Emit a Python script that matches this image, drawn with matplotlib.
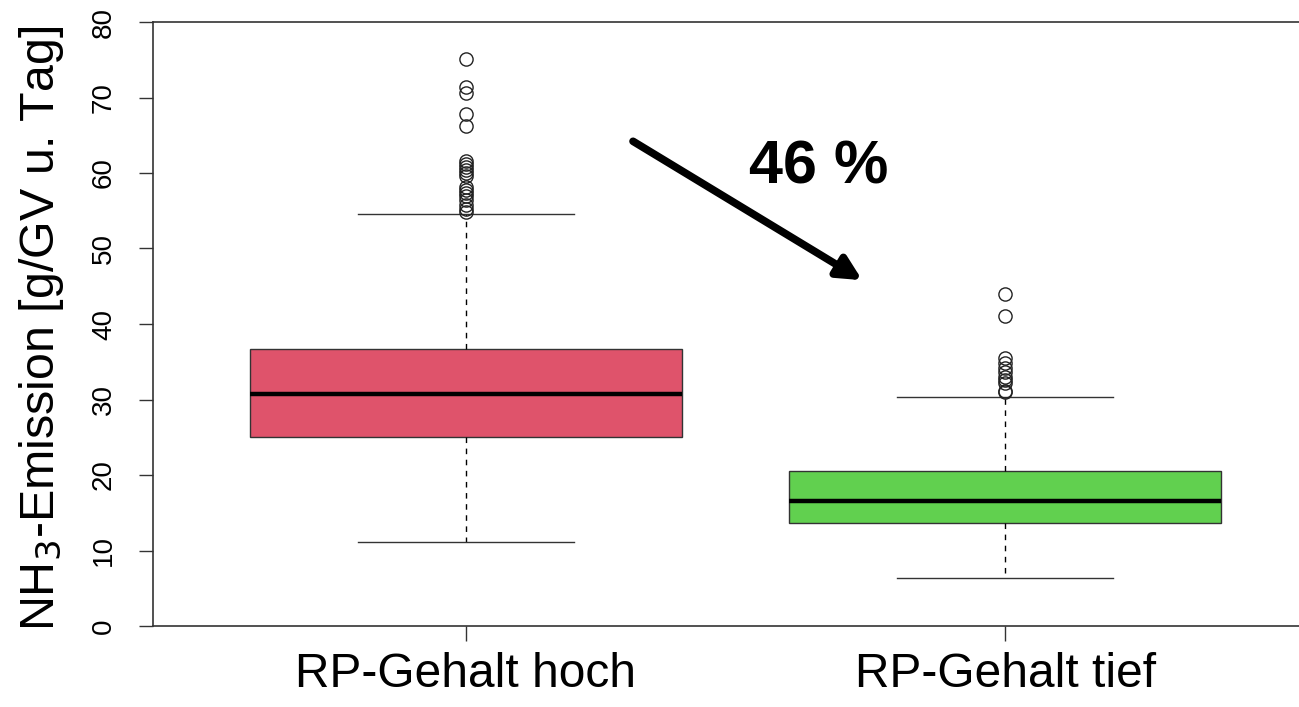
import numpy as np
import matplotlib
matplotlib.use('Agg')
import matplotlib.pyplot as plt

plt.rcParams['font.family'] = ['Liberation Sans', 'DejaVu Sans']

groups = ["RP-Gehalt hoch", "RP-Gehalt tief"]
colors = ["#DF536B", "#61D04F"]

# box statistics per group
q1 = [25.0, 13.6]
med = [30.7, 16.6]
q3 = [36.7, 20.5]
whislo = [11.1, 6.4]
whishi = [54.6, 30.3]

fliers_hoch = [75.1, 71.4, 70.6, 67.8, 66.2, 61.6, 61.2, 60.8, 60.4, 60.0, 59.6,
               58.2, 57.8, 57.4, 57.0, 56.4, 55.8, 55.2, 54.9]
fliers_tief = [44.0, 41.1, 35.5, 34.8, 34.2, 33.6, 33.0, 32.6, 32.2, 31.1, 31.0]
fliers = [fliers_hoch, fliers_tief]

reduction = "46 %"

stats = []
for i in range(len(groups)):
    stats.append(dict(label=groups[i], q1=q1[i], med=med[i], q3=q3[i],
                      whislo=whislo[i], whishi=whishi[i], fliers=fliers[i]))

fig = plt.figure(figsize=(12.99, 7.07), dpi=100)
ax = fig.add_axes([153/1299, 81/707, 1165/1299, 604/707])

bp = ax.bxp(stats, positions=[1, 2], widths=0.8, patch_artist=True,
            boxprops=dict(edgecolor='#333333', linewidth=1.0),
            medianprops=dict(color='black', linewidth=3.2),
            whiskerprops=dict(color='black', linewidth=1.0, linestyle=(0, (4, 4))),
            capprops=dict(color='#333333', linewidth=1.0),
            capwidths=0.4,
            flierprops=dict(marker='o', markerfacecolor='none', markeredgecolor='#222222',
                            markersize=9.5, markeredgewidth=1.0, linestyle='none'))
for patch, c in zip(bp['boxes'], colors):
    patch.set_facecolor(c)

ax.set_xlim(0.42, 2.58)
ax.set_ylim(0, 80)
ax.set_yticks(np.arange(0, 81, 10))
ax.set_xticks([1, 2])
ax.set_xticklabels(groups, fontsize=34.5)
ax.tick_params(axis='x', length=11, width=1.0, pad=8, colors='#333333', labelcolor='black')
ax.tick_params(axis='y', length=10, width=1.0, pad=16, labelsize=20, colors='#333333',
               labelcolor='black')
for lab in ax.get_yticklabels():
    lab.set_rotation(90)
    lab.set_va('center')
for s in ['top', 'bottom', 'left']:
    ax.spines[s].set_linewidth(1.2)
    ax.spines[s].set_color('#333333')
ax.spines['right'].set_visible(False)

ax.set_ylabel("NH$_3$-Emission [g/GV u. Tag]", fontsize=34.8)
ax.yaxis.set_label_coords(-0.075, 0.492)

ax.annotate("", xy=(1.735, 45.8), xytext=(1.31, 64.2),
            arrowprops=dict(arrowstyle='-|>,head_length=1.4,head_width=0.7',
                            color='black', linewidth=5.5, shrinkA=0, shrinkB=0))
ax.text(1.654, 60.7, reduction, fontsize=44, fontweight='bold', ha='center', va='center')

fig.savefig('out.png', dpi=100)
